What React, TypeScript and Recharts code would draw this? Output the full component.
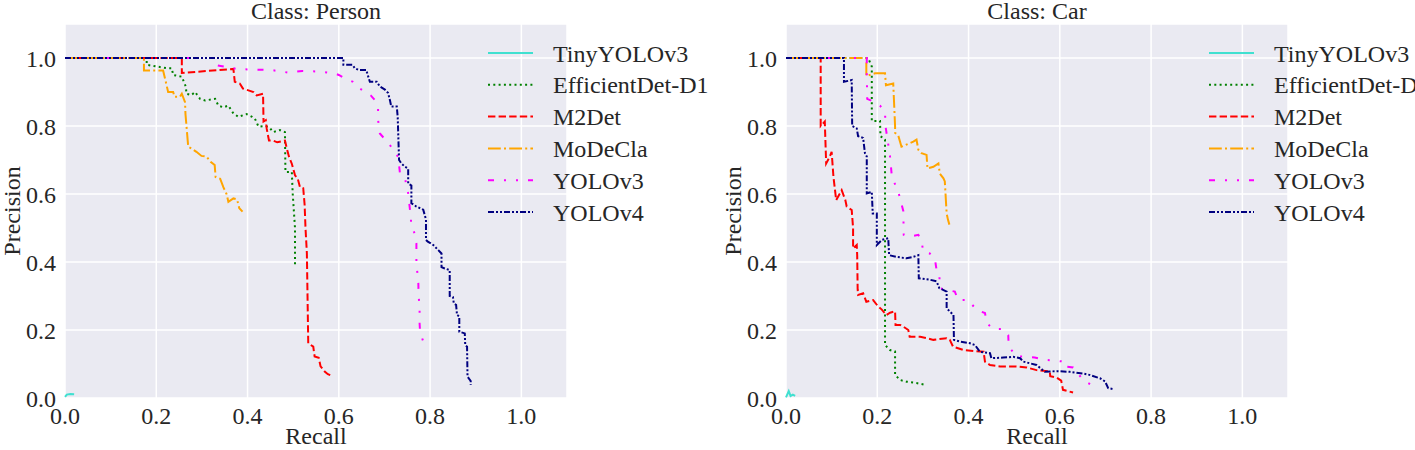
import React from 'react';
import { LineChart, Line, XAxis, YAxis, CartesianGrid, Legend } from 'recharts';

type Pt = [number, number];

const seriesNames = ['TinyYOLOv3', 'EfficientDet-D1', 'M2Det', 'MoDeCla', 'YOLOv3', 'YOLOv4'];
const seriesColors = ['#40E0D0', '#008000', '#FF0000', '#FFA500', '#FF00FF', '#000080'];
const seriesDashes = [undefined, '2 3.3', '7.4 3.2', '12.8 3.2 2 3.2', '6 10 2 10 2 10', '6 2 2 2 2 2'];
const axisTicks = [0, 0.2, 0.4, 0.6, 0.8, 1.0];

// ---- Class: Person ([recall, precision]) ----
const personTinyYolo: Pt[] = [[0, 0.003], [0.004, 0.01], [0.012, 0.012], [0.02, 0.011]];
const personEfficientDet: Pt[] = [
  [0, 1], [0.179, 1], [0.179, 0.98], [0.223, 0.97], [0.234, 0.97], [0.237, 0.95], [0.256, 0.945],
  [0.259, 0.935], [0.265, 0.915], [0.266, 0.895], [0.277, 0.891], [0.285, 0.9], [0.296, 0.88],
  [0.307, 0.875], [0.329, 0.88], [0.336, 0.86], [0.347, 0.855], [0.358, 0.86], [0.369, 0.837],
  [0.38, 0.827], [0.398, 0.835], [0.41, 0.827], [0.416, 0.822], [0.424, 0.798], [0.44, 0.8],
  [0.449, 0.794], [0.456, 0.782], [0.471, 0.788], [0.482, 0.782], [0.483, 0.665], [0.497, 0.665],
  [0.499, 0.6], [0.504, 0.5], [0.504, 0.386],
];
const personM2Det: Pt[] = [
  [0, 1], [0.256, 1], [0.256, 0.956], [0.369, 0.968], [0.372, 0.93], [0.383, 0.925], [0.39, 0.91],
  [0.413, 0.9], [0.42, 0.89], [0.434, 0.895], [0.435, 0.813], [0.44, 0.817], [0.442, 0.792],
  [0.447, 0.757], [0.456, 0.757], [0.465, 0.752], [0.482, 0.757], [0.486, 0.734], [0.491, 0.709],
  [0.497, 0.689], [0.504, 0.655], [0.51, 0.645], [0.515, 0.62], [0.522, 0.617], [0.525, 0.57],
  [0.527, 0.5], [0.53, 0.426], [0.533, 0.161], [0.544, 0.151], [0.547, 0.122], [0.556, 0.118],
  [0.56, 0.093], [0.569, 0.078], [0.576, 0.07], [0.587, 0.064],
];
const personMoDeCla: Pt[] = [
  [0, 1], [0.173, 1], [0.173, 0.963], [0.215, 0.963], [0.22, 0.935], [0.226, 0.9], [0.237, 0.9],
  [0.24, 0.886], [0.252, 0.886], [0.256, 0.895], [0.263, 0.87], [0.264, 0.835], [0.27, 0.739],
  [0.277, 0.734], [0.288, 0.724], [0.299, 0.712], [0.31, 0.71], [0.319, 0.695], [0.328, 0.685],
  [0.33, 0.65], [0.34, 0.645], [0.347, 0.62], [0.354, 0.6], [0.358, 0.577], [0.369, 0.587],
  [0.377, 0.584], [0.382, 0.558], [0.389, 0.548],
];
const personYolov3: Pt[] = [
  [0, 1], [0.33, 1], [0.33, 0.979], [0.38, 0.967], [0.45, 0.965], [0.49, 0.957], [0.52, 0.962],
  [0.56, 0.96], [0.59, 0.955], [0.6, 0.95], [0.613, 0.94], [0.631, 0.93], [0.646, 0.91],
  [0.67, 0.89], [0.679, 0.876], [0.686, 0.852], [0.686, 0.818], [0.69, 0.778], [0.712, 0.744],
  [0.723, 0.72], [0.73, 0.71], [0.734, 0.661], [0.745, 0.646], [0.752, 0.602], [0.756, 0.553],
  [0.759, 0.509], [0.766, 0.484], [0.77, 0.455], [0.77, 0.39], [0.774, 0.35], [0.775, 0.298],
  [0.777, 0.27], [0.777, 0.22], [0.778, 0.195], [0.785, 0.166],
];
const personYolov4: Pt[] = [
  [0, 1], [0.61, 1], [0.61, 0.98], [0.63, 0.98], [0.635, 0.97], [0.643, 0.965], [0.66, 0.965],
  [0.668, 0.93], [0.683, 0.93], [0.69, 0.916], [0.701, 0.907], [0.708, 0.897], [0.712, 0.876],
  [0.715, 0.857], [0.727, 0.857], [0.729, 0.827], [0.732, 0.7], [0.737, 0.69], [0.745, 0.68],
  [0.752, 0.675], [0.752, 0.631], [0.759, 0.625], [0.759, 0.573], [0.77, 0.563], [0.785, 0.554],
  [0.791, 0.525], [0.791, 0.465], [0.795, 0.46], [0.807, 0.45], [0.818, 0.435], [0.825, 0.425],
  [0.825, 0.385], [0.832, 0.381], [0.843, 0.376], [0.843, 0.3], [0.85, 0.297], [0.852, 0.278],
  [0.857, 0.274], [0.859, 0.244], [0.864, 0.24], [0.864, 0.195], [0.876, 0.19], [0.877, 0.156],
  [0.881, 0.151], [0.882, 0.063], [0.889, 0.05], [0.889, 0.038],
];

// ---- Class: Car ([recall, precision]) ----
const carTinyYolo: Pt[] = [[0, 0.002], [0.006, 0.02], [0.01, 0.006], [0.015, 0.01], [0.02, 0.006]];
const carEfficientDet: Pt[] = [
  [0, 1], [0.18, 1], [0.188, 0.975], [0.188, 0.815], [0.206, 0.815], [0.207, 0.77], [0.217, 0.76],
  [0.217, 0.156], [0.228, 0.141], [0.239, 0.137], [0.239, 0.068], [0.25, 0.053], [0.264, 0.048],
  [0.286, 0.044], [0.308, 0.038],
];
const carM2Det: Pt[] = [
  [0, 1], [0.076, 1], [0.076, 0.8], [0.085, 0.813], [0.088, 0.69], [0.096, 0.71], [0.1, 0.724],
  [0.104, 0.65], [0.11, 0.582], [0.122, 0.611], [0.13, 0.582], [0.133, 0.563], [0.144, 0.553],
  [0.147, 0.5], [0.147, 0.44], [0.155, 0.45], [0.156, 0.42], [0.157, 0.32], [0.158, 0.303],
  [0.169, 0.308], [0.176, 0.283], [0.191, 0.288], [0.202, 0.269], [0.21, 0.26], [0.22, 0.244],
  [0.228, 0.251], [0.239, 0.255], [0.24, 0.215], [0.25, 0.215], [0.257, 0.21], [0.268, 0.2],
  [0.271, 0.18], [0.294, 0.18], [0.308, 0.176], [0.323, 0.171], [0.352, 0.176], [0.359, 0.171],
  [0.366, 0.151], [0.389, 0.141], [0.433, 0.136], [0.436, 0.107], [0.447, 0.097], [0.469, 0.093],
  [0.505, 0.093], [0.527, 0.09], [0.549, 0.082], [0.578, 0.078], [0.579, 0.064], [0.593, 0.06],
  [0.603, 0.051], [0.607, 0.024], [0.629, 0.016],
];
const carMoDeCla: Pt[] = [
  [0, 1], [0.176, 1], [0.176, 0.947], [0.188, 0.952], [0.195, 0.955], [0.217, 0.955], [0.219, 0.92],
  [0.235, 0.925], [0.239, 0.8], [0.239, 0.78], [0.246, 0.772], [0.253, 0.739], [0.279, 0.754],
  [0.286, 0.76], [0.29, 0.73], [0.297, 0.72], [0.308, 0.715], [0.31, 0.675], [0.323, 0.68],
  [0.334, 0.69], [0.337, 0.66], [0.345, 0.646], [0.348, 0.637], [0.352, 0.543], [0.355, 0.524],
  [0.358, 0.51],
];
const carYolov3: Pt[] = [
  [0, 1], [0.177, 1], [0.177, 0.95], [0.178, 0.88], [0.195, 0.87], [0.206, 0.86], [0.217, 0.84],
  [0.218, 0.8], [0.228, 0.71], [0.232, 0.65], [0.246, 0.607], [0.257, 0.55], [0.258, 0.48],
  [0.272, 0.475], [0.29, 0.48], [0.297, 0.46], [0.301, 0.43], [0.315, 0.425], [0.326, 0.411],
  [0.33, 0.376], [0.336, 0.367], [0.337, 0.323], [0.352, 0.318], [0.37, 0.313], [0.377, 0.288],
  [0.399, 0.288], [0.418, 0.259], [0.436, 0.25], [0.44, 0.22], [0.454, 0.203], [0.476, 0.203],
  [0.487, 0.185], [0.488, 0.151], [0.505, 0.122], [0.52, 0.122], [0.545, 0.119], [0.567, 0.112],
  [0.589, 0.11], [0.609, 0.107], [0.61, 0.093], [0.629, 0.09], [0.651, 0.053], [0.673, 0.035],
];
const carYolov4: Pt[] = [
  [0, 1], [0.127, 1], [0.127, 0.93], [0.144, 0.935], [0.145, 0.8], [0.155, 0.793], [0.158, 0.77],
  [0.169, 0.765], [0.173, 0.72], [0.177, 0.71], [0.177, 0.602], [0.188, 0.606], [0.19, 0.543],
  [0.199, 0.543], [0.199, 0.45], [0.21, 0.465], [0.224, 0.47], [0.226, 0.42], [0.242, 0.415],
  [0.264, 0.411], [0.278, 0.415], [0.29, 0.42], [0.291, 0.352], [0.315, 0.348], [0.33, 0.343],
  [0.336, 0.323], [0.352, 0.313], [0.352, 0.264], [0.367, 0.244], [0.368, 0.171], [0.381, 0.166],
  [0.403, 0.161], [0.414, 0.156], [0.425, 0.136], [0.447, 0.132], [0.45, 0.117], [0.476, 0.119],
  [0.498, 0.121], [0.513, 0.117], [0.52, 0.107], [0.549, 0.097], [0.567, 0.077], [0.593, 0.079],
  [0.622, 0.077], [0.651, 0.072], [0.665, 0.068], [0.688, 0.058], [0.699, 0.049], [0.706, 0.029],
  [0.718, 0.026],
];

const personCurves = [personTinyYolo, personEfficientDet, personM2Det, personMoDeCla, personYolov3, personYolov4];
const carCurves = [carTinyYolo, carEfficientDet, carM2Det, carMoDeCla, carYolov3, carYolov4];

const FONT = '"Liberation Serif", "Times New Roman", serif';
const TEXT = '#262626';
const PLOT_LEFT = 65;
const PLOT_W = 502;

const renderLegend = () => (
  <svg width={240} height={200} style={{ overflow: 'visible' }}>
    {seriesNames.map((name, i) => {
      const y = 17 + i * 31.8;
      return (
        <g key={name}>
          <line x1={8} x2={53} y1={y} y2={y} stroke={seriesColors[i]} strokeWidth={2}
            strokeDasharray={seriesDashes[i]} />
          <text x={73} y={y + 8.5} fontSize={24} fontFamily={FONT} fill={TEXT}>{name}</text>
        </g>
      );
    })}
  </svg>
);

const PRChart: React.FC<{ title: string; curves: Pt[][]; width: number }> = ({ title, curves, width }) => {
  const data = curves.map((c) => c.map(([r, p]) => ({ r, p })));
  const tickStyle = { fontSize: 24, fontFamily: FONT, fill: TEXT };
  return (
    <div style={{ position: 'relative', width, height: 450 }}>
      <LineChart width={width} height={450}
        margin={{ top: 24, right: width - PLOT_LEFT - PLOT_W, bottom: 0, left: 0 }}>
        <CartesianGrid fill="#EAEAF2" stroke="#FFFFFF" strokeWidth={1.5} />
        <XAxis type="number" dataKey="r" domain={[0, 1.1]} ticks={axisTicks} height={52}
          axisLine={false} tickLine={false} tickSize={0} tickMargin={9} tick={tickStyle}
          tickFormatter={(v: number) => v.toFixed(1)}
          label={{
            content: (props: any) => {
              const vb = props.viewBox || { x: PLOT_LEFT, y: 398, width: PLOT_W, height: 52 };
              return (
                <text x={vb.x + vb.width / 2} y={vb.y + 46} textAnchor="middle"
                  fontSize={24} fontFamily={FONT} fill={TEXT}>Recall</text>
              );
            },
          }} />
        <YAxis type="number" dataKey="p" domain={[0, 1.1]} ticks={axisTicks} width={PLOT_LEFT}
          axisLine={false} tickLine={false} tickSize={0} tickMargin={9} tick={tickStyle}
          tickFormatter={(v: number) => v.toFixed(1)}
          label={{
            content: (props: any) => {
              const vb = props.viewBox || { x: 0, y: 24, width: PLOT_LEFT, height: 374 };
              const cx = vb.x + 20;
              const cy = vb.y + vb.height / 2;
              return (
                <text x={cx} y={cy} textAnchor="middle" transform={`rotate(-90 ${cx} ${cy})`}
                  fontSize={24} fontFamily={FONT} fill={TEXT}>Precision</text>
              );
            },
          }} />
        {data.map((d, i) => (
          <Line key={seriesNames[i]} data={d} dataKey="p" name={seriesNames[i]} type="linear"
            stroke={seriesColors[i]} strokeWidth={2} strokeDasharray={seriesDashes[i]}
            strokeLinecap="butt" dot={false} activeDot={false} isAnimationActive={false} />
        ))}
        <Legend layout="vertical" align="center" verticalAlign="middle" content={renderLegend}
          wrapperStyle={{ left: 480, top: 36, width: 240, height: 200 }} />
      </LineChart>
      <svg width={width} height={30} style={{ position: 'absolute', left: 0, top: 0, overflow: 'visible' }}>
        <text x={PLOT_LEFT + PLOT_W / 2} y={19} textAnchor="middle" fontSize={24}
          fontFamily={FONT} fill={TEXT}>{title}</text>
      </svg>
    </div>
  );
};

export default function App() {
  return (
    <div style={{ position: 'absolute', left: 0, top: 0, width: 1415, height: 450, overflow: 'hidden', background: '#fff' }}>
      <div style={{ position: 'absolute', left: 0, top: 0 }}>
        <PRChart title="Class: Person" curves={personCurves} width={707} />
      </div>
      <div style={{ position: 'absolute', left: 721, top: 0 }}>
        <PRChart title="Class: Car" curves={carCurves} width={694} />
      </div>
    </div>
  );
}
